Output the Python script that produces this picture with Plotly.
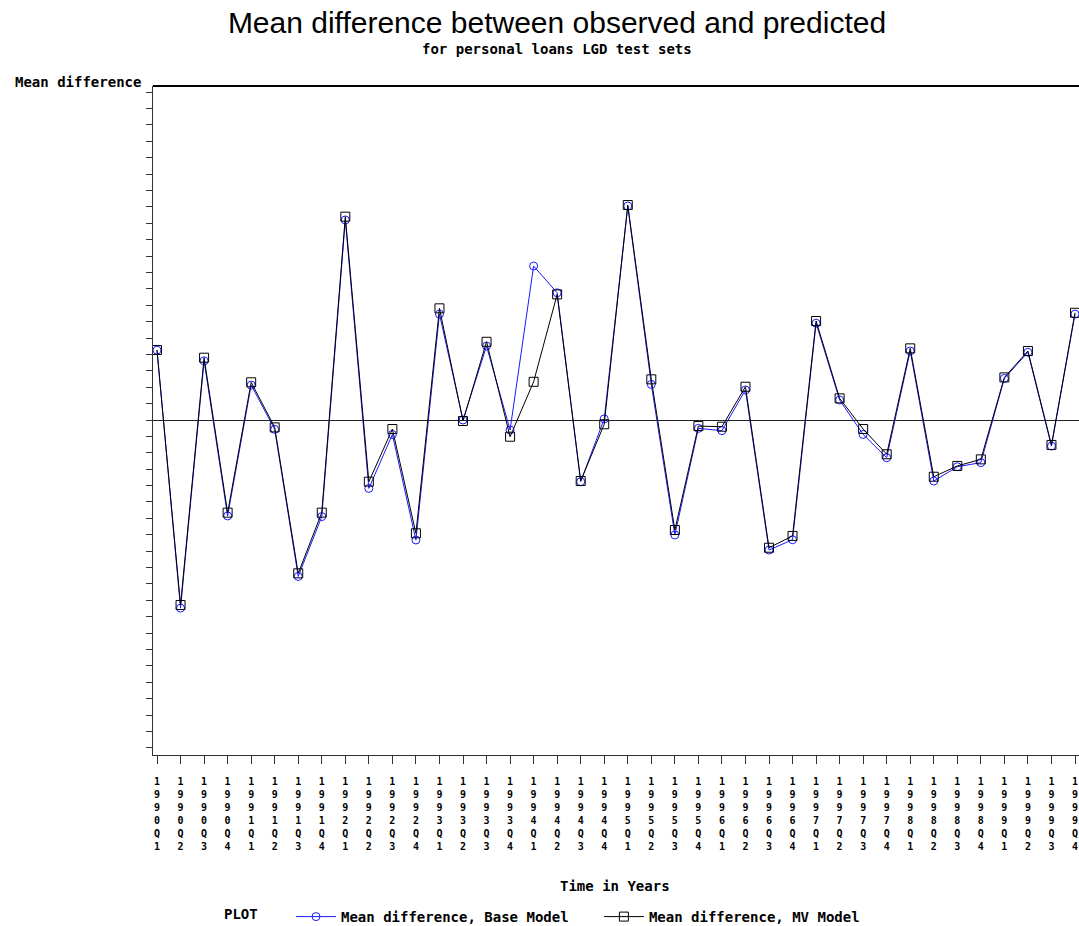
import plotly.graph_objects as go

quarters = [f"{y}Q{q}" for y in range(1990, 2000) for q in range(1, 5)]

base_model = [0.0426, -0.1147, 0.0361, -0.0585, 0.0213, -0.0057, -0.0954, -0.0589, 0.1220, -0.0417,
              -0.0088, -0.0732, 0.0646, 0.0000, 0.0451, -0.0061, 0.0939, 0.0776, -0.0376, 0.0007,
              0.1305, 0.0217, -0.0701, -0.0051, -0.0065, 0.0183, -0.0793, -0.0730, 0.0590, 0.0122,
              -0.0088, -0.0230, 0.0421, -0.0372, -0.0285, -0.0260, 0.0254, 0.0413, -0.0159, 0.0646]

mv_model = [0.0427, -0.1128, 0.0380, -0.0565, 0.0230, -0.0045, -0.0935, -0.0565, 0.1240, -0.0376,
            -0.0055, -0.0691, 0.0681, -0.0006, 0.0477, -0.0102, 0.0233, 0.0766, -0.0372, -0.0026,
            0.1311, 0.0248, -0.0671, -0.0037, -0.0041, 0.0203, -0.0779, -0.0707, 0.0604, 0.0132,
            -0.0055, -0.0209, 0.0437, -0.0346, -0.0280, -0.0240, 0.0260, 0.0421, -0.0152, 0.0654]

x_idx = list(range(len(quarters)))
tick_text = ["<br>".join(f"<b>{c}</b>" for c in q) for q in quarters]

MONO = "DejaVu Sans Mono"

fig = go.Figure()
fig.add_trace(go.Scatter(
    x=x_idx, y=base_model, mode="lines+markers",
    name="<b>Mean difference, Base Model</b>&nbsp;&nbsp;&nbsp;",
    line=dict(color="#1a1aff", width=1),
    marker=dict(symbol="circle-open", size=8, color="#1a1aff", line=dict(width=1)),
))
fig.add_trace(go.Scatter(
    x=x_idx, y=mv_model, mode="lines+markers",
    name="<b>Mean difference, MV Model</b>",
    line=dict(color="black", width=1),
    marker=dict(symbol="square-open", size=9, color="black", line=dict(width=1)),
))

fig.update_layout(
    width=1079, height=926,
    margin=dict(l=153, r=0, t=86, b=171, autoexpand=False),
    paper_bgcolor="white", plot_bgcolor="white",
    title=dict(text="Mean difference between observed and predicted",
               font=dict(family="Liberation Sans", size=30, color="black"),
               x=557 / 1079, xanchor="center", y=1 - 22 / 926, yanchor="middle", xref="container"),
    showlegend=True,
    legend=dict(orientation="h", x=(222 - 153) / 926, xanchor="left",
                y=(755 - 917) / 669, yanchor="middle",
                title=dict(text="<b>PLOT</b>   ", font=dict(family=MONO, size=14, color="black")),
                font=dict(family=MONO, size=14, color="black"),
                itemwidth=40, bgcolor="rgba(0,0,0,0)"),
    xaxis=dict(range=[-0.17, 39.17], tickmode="array", tickvals=x_idx, ticktext=tick_text,
               showgrid=False, zeroline=False, showline=True, linecolor="#333", linewidth=1,
               mirror=False, ticks="outside", ticklen=8, tickcolor="#333", tickwidth=1,
               ticklabelstandoff=9, automargin=False,
               tickfont=dict(family=MONO, size=10, color="black"), tickangle=0),
    yaxis=dict(range=[-0.2043, 0.2037], tick0=0, dtick=0.01, showticklabels=False,
               showgrid=False, zeroline=True, zerolinecolor="#222", zerolinewidth=1,
               showline=True, linecolor="#333", linewidth=1, automargin=False,
               ticks="outside", ticklen=6, tickcolor="#333", tickwidth=1),
    shapes=[dict(type="line", xref="paper", yref="paper", x0=0, x1=1, y0=1, y1=1,
                 line=dict(color="black", width=2))],
    annotations=[
        dict(text="<b>for personal loans LGD test sets</b>", xref="paper", yref="paper",
             x=(557 - 153) / 926, y=(755 - 49) / 669, xanchor="center", yanchor="middle",
             showarrow=False, font=dict(family=MONO, size=14, color="black")),
        dict(text="<b>Mean difference</b>", xref="paper", yref="paper",
             x=(13 - 153) / 926, y=(755 - 82) / 669, xanchor="left", yanchor="middle",
             showarrow=False, font=dict(family=MONO, size=14, color="black")),
        dict(text="<b>Time in Years</b>", xref="paper", yref="paper",
             x=(615 - 153) / 926, y=(755 - 886) / 669, xanchor="center", yanchor="middle",
             showarrow=False, font=dict(family=MONO, size=14, color="black")),
    ],
)

fig.write_html("out.html")
